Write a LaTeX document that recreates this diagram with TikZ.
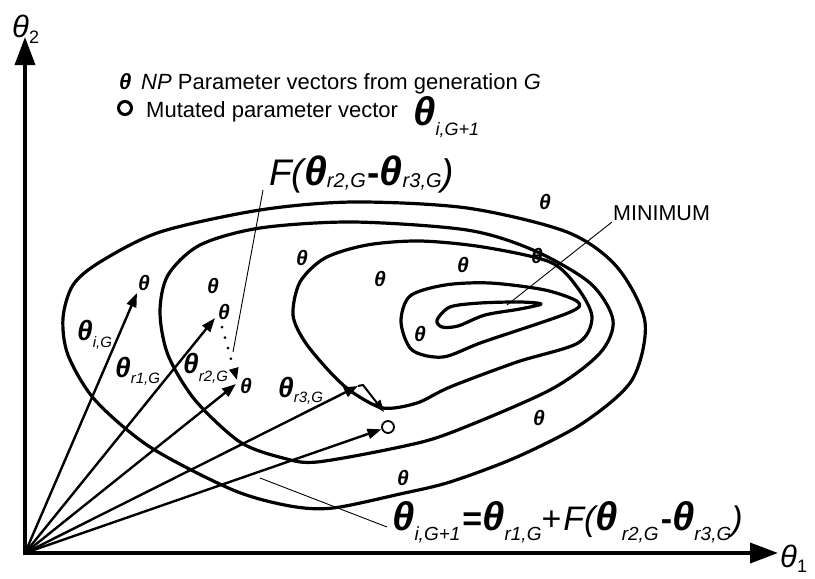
\documentclass[tikz,border=0pt]{standalone}
\usepackage{fontspec}
\setmainfont{Liberation Sans}
\usetikzlibrary{arrows.meta}
\newcommand{\fs}[1]{\fontsize{#1}{#1}\selectfont}
\newcommand{\bth}[1]{{\fs{#1}\bfseries\itshape θ}}
\newcommand{\idx}[3]{\raisebox{-#1pt}{\fs{#2}\itshape #3}}

\begin{document}
\begin{tikzpicture}[x=1pt, y=-1pt, >={Triangle[length=14pt,width=10pt]},
  level/.style={line width=3.2pt, line join=round},
  vec/.style={->, line width=2.4pt},
  pt/.style={font=\fs{21}\bfseries\itshape, inner sep=0pt},
  lbl/.style={inner sep=0pt, anchor=base west},
  lead/.style={line width=0.9pt}]
  \useasboundingbox (0,0) rectangle (815,579);
  \coordinate (O) at (25,553);
  \coordinate (ytip) at (25,37);
  \coordinate (xtip) at (778,553);
  % axes
  \draw[line width=3.6pt, line join=miter, {Triangle[length=28pt,width=20pt]}-{Triangle[length=28pt,width=20pt]}] (ytip) -- (O) -- (xtip);
  \node[lbl] (th2) at (12,37) {{\fs{31}\itshape θ}\raisebox{-6pt}{\fs{18}2}};
  \node[lbl] (th1) at (780,567) {{\fs{31}\itshape θ}\raisebox{-5pt}{\fs{18}1}};
  % level curves of the cost function
  \draw[level] plot[smooth cycle] coordinates {(63,318) (73,285) (100,262) (160,232) (260,210) (353,202) (467,208) (567,232) (617,267) (645,322) (632,380) (583,423) (517,457) (450,482) (400,494) (333,508) (290,506) (233,490) (150,447) (95,400) (68,355)};
  \draw[level] plot[smooth cycle] coordinates {(160,312) (168,275) (200,245) (260,228) (353,222) (467,230) (533,250) (590,283) (613,320) (600,353) (550,390) (450,433) (400,447) (317,462) (283,458) (240,442) (195,400) (168,355)};
  \draw[level] plot[smooth cycle] coordinates {(293,315) (300,282) (325,258) (367,245) (420,241) (483,247) (550,262) (577,287) (592,317) (578,343) (517,362) (450,387) (417,403) (383,408) (352,392) (330,372) (305,342)};
  \draw[level] plot[smooth cycle] coordinates {(401,322) (410,296) (445,285) (490,283) (545,290) (578,302) (568,313) (483,342) (443,357) (412,350)};
  \draw[level] plot[smooth cycle] coordinates {(437,320) (450,307) (480,303) (520,302) (541,304) (520,309) (485,315) (458,326) (442,327)};
  % population members
  \node[pt] (t1) at (144,283) {θ};
  \node[pt] (t2) at (213,286) {θ};
  \node[pt] (t3) at (224,312) {θ};
  \node[pt] (t4) at (246,386) {θ};
  \node[pt] (t5) at (302,258) {θ};
  \node[pt] (t6) at (380,279) {θ};
  \node[pt] (t7) at (463,265) {θ};
  \node[pt] (t8) at (545,202) {θ};
  \node[pt] (t9) at (537,256) {θ};
  \node[pt] (t10) at (420,334) {θ};
  \node[pt] (t11) at (539,418) {θ};
  \node[pt] (t12) at (403,478) {θ};
  \node[circle, draw, line width=1.8pt, fill=white, minimum size=12pt, inner sep=0pt] (mut) at (388,427) {};
  % vectors from the origin
  \coordinate (vi) at (137,293);
  \coordinate (v1) at (215,318);
  \coordinate (v2) at (236,384);
  \coordinate (v3) at (358,386);
  \draw[vec] (O) -- (vi);
  \draw[vec] (O) -- (v1);
  \draw[vec] (O) -- (v2);
  \draw[vec] (O) -- (v3);
  \draw[vec] (O) -- (mut);
  \node[lbl] (li) at (77,340) {\bth{28}\idx{7}{15}{i,G}};
  \node[lbl] (l1) at (115,377) {\bth{28}\idx{6}{15}{r1,G}};
  \node[lbl] (l2) at (183,373) {\bth{28}\idx{8}{15}{r2,G}};
  \node[lbl] (l3) at (278,397) {\bth{28}\idx{5}{15}{r3,G}};
  % scaled difference
  \coordinate (d1) at (222,327);
  \coordinate (d2) at (237,380);
  \draw[line width=3pt, line cap=round, dash pattern=on 0pt off 11pt, -{Triangle[length=12pt,width=9pt]}] (d1) -- (d2);
  \coordinate (k) at (363,385);
  \coordinate (k2) at (384,412);
  \draw[line width=2pt, -{Triangle[length=12pt,width=9pt]}] (v3) -- (k) -- (k2);
  \node[lbl] (flab) at (269,185) {{\fs{37}\itshape F(}\bth{41}\idx{2}{20}{r2,G}\,{\fs{37}\bfseries -}\bth{41}\idx{2}{20}{r3,G}{\fs{37}\itshape )}};
  \coordinate (fa) at (263,190);
  \coordinate (fb) at (233,352);
  \draw[lead] (fa) -- (fb);
  % minimum
  \node[lbl, font=\fs{21.5}] (minl) at (613,220) {MINIMUM};
  \coordinate (ma) at (612,222);
  \coordinate (mb) at (507,305);
  \draw[lead] (ma) -- (mb);
  % legend
  \node[lbl, font=\fs{22}] (leg1) at (119,89) {{\bfseries\itshape θ}\, \textit{NP} Parameter vectors from generation \textit{G}};
  \node[circle, draw, line width=3pt, minimum size=13pt, inner sep=0pt] (mk) at (125,108) {};
  \node[lbl, font=\fs{22}] (leg2) at (146,117) {Mutated parameter vector};
  \node[lbl] (leg3) at (413,125) {\bth{40}\idx{10}{18}{i,G+1}};
  % update rule
  \node[lbl] (upd) at (392,530) {\bth{40}\idx{10}{19}{i,G+1}\kern2pt{\fs{34}\bfseries =}\bth{40}\idx{10}{19}{r1,G}{\fs{34}+}\kern2pt{\fs{34}\itshape F(}\bth{40}\kern4pt\idx{10}{19}{r2,G}\kern2pt{\fs{34}\bfseries -}\bth{40}\idx{10}{19}{r3,G}{\fs{34}\itshape )}};
  \coordinate (ua) at (260,478);
  \coordinate (ub) at (387,527);
  \draw[lead] (ua) -- (ub);
\end{tikzpicture}
\end{document}
